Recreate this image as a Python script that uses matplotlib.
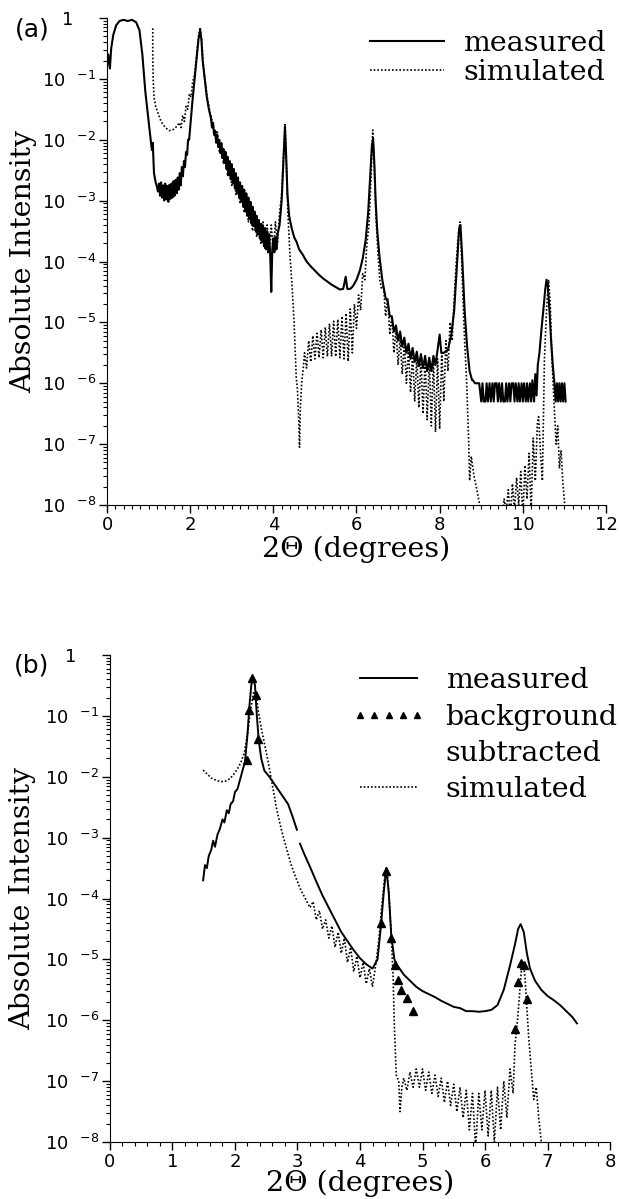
import numpy as np
import matplotlib.pyplot as plt
from matplotlib.lines import Line2D
from matplotlib.ticker import MultipleLocator, LogLocator, NullFormatter, FuncFormatter, FixedLocator

plt.rcParams['font.family'] = 'DejaVu Sans'
plt.rcParams['mathtext.default'] = 'regular'

# Werte als log10(Intensität).
# ---- (a) gemessen ----
meas_a_x = [0.00, 0.03, 0.07, 0.10, 0.15, 0.22, 0.30, 0.40, 0.50, 0.60,
            0.70, 0.78, 0.85, 0.92, 1.00, 1.05, 1.08, 1.10, 1.13, 1.17,
            1.200, 1.225, 1.250, 1.275, 1.300, 1.325, 1.350, 1.375, 1.400, 1.425,
            1.450, 1.475, 1.500, 1.525, 1.550, 1.575, 1.600, 1.625, 1.650, 1.675,
            1.700, 1.725, 1.750, 1.775, 1.800, 1.825, 1.850, 1.875, 1.900, 1.925,
            1.950, 1.975, 2.00, 2.05, 2.10, 2.15, 2.20, 2.24, 2.27, 2.30,
            2.35, 2.40, 2.45, 2.500, 2.525, 2.550, 2.575, 2.600, 2.625, 2.650,
            2.675, 2.700, 2.725, 2.750, 2.775, 2.800, 2.825, 2.850, 2.875, 2.900,
            2.925, 2.950, 2.975, 3.000, 3.025, 3.050, 3.075, 3.100, 3.125, 3.150,
            3.175, 3.200, 3.225, 3.250, 3.275, 3.300, 3.325, 3.350, 3.375, 3.400,
            3.425, 3.450, 3.475, 3.500, 3.525, 3.550, 3.575, 3.600, 3.625, 3.650,
            3.675, 3.700, 3.725, 3.750, 3.775, 3.800, 3.825, 3.850, 3.875, 3.900,
            3.925, 3.950, 3.975, 4.000, 4.025, 4.050, 4.075, 4.100, 4.150, 4.200,
            4.24, 4.28, 4.31, 4.34, 4.38, 4.44, 4.50, 4.56, 4.62, 4.70,
            4.80, 4.90, 5.00, 5.10, 5.20, 5.30, 5.40, 5.50, 5.60, 5.68,
            5.74, 5.78, 5.85, 5.92, 6.00, 6.08, 6.15, 6.22, 6.28, 6.33,
            6.37, 6.40, 6.43, 6.46, 6.50, 6.55, 6.62, 6.70, 6.75, 6.80,
            6.85, 6.90, 6.95, 7.00, 7.05, 7.10, 7.15, 7.20, 7.25, 7.30,
            7.35, 7.40, 7.45, 7.50, 7.55, 7.60, 7.65, 7.70, 7.75, 7.80,
            7.85, 7.90, 7.95, 8.00, 8.04, 8.10, 8.20, 8.28, 8.35, 8.42,
            8.47, 8.50, 8.54, 8.60, 8.66, 8.72, 8.78, 8.80, 8.85, 8.90,
            8.95, 9.00, 9.03, 9.06, 9.10, 9.13, 9.16, 9.20, 9.23, 9.27,
            9.30, 9.33, 9.37, 9.40, 9.43, 9.47, 9.50, 9.53, 9.57, 9.60,
            9.63, 9.67, 9.70, 9.73, 9.77, 9.80, 9.83, 9.87, 9.90, 9.93,
            9.97, 10.00, 10.03, 10.07, 10.10, 10.13, 10.17, 10.20, 10.23, 10.27,
            10.30, 10.33, 10.36, 10.40, 10.45, 10.50, 10.54, 10.57, 10.60, 10.64,
            10.68, 10.72, 10.76, 10.79, 10.82, 10.85, 10.88, 10.91, 10.94, 10.97,
            11.00, 11.03]
meas_a_log = [-0.80, -0.60, -0.83, -0.50, -0.28, -0.12, -0.05, -0.03, -0.05, -0.03,
              -0.07, -0.20, -0.60, -1.20, -1.70, -2.00, -2.17, -2.05, -2.55, -2.70,
              -2.77, -2.85, -2.72, -2.92, -2.70, -2.95, -2.75, -3.00, -2.72, -2.98,
              -2.76, -3.02, -2.74, -2.97, -2.72, -2.95, -2.68, -2.92, -2.66, -2.88,
              -2.62, -2.82, -2.55, -2.75, -2.45, -2.60, -2.35, -2.45, -2.20, -2.25,
              -2.00, -2.00, -1.80, -1.40, -1.05, -0.70, -0.35, -0.20, -0.35, -0.70,
              -1.00, -1.30, -1.50, -1.65, -1.80, -1.72, -1.92, -1.85, -2.05, -1.92,
              -2.12, -2.00, -2.22, -2.06, -2.30, -2.15, -2.38, -2.20, -2.48, -2.28,
              -2.58, -2.35, -2.65, -2.40, -2.72, -2.48, -2.80, -2.55, -2.88, -2.62,
              -2.95, -2.70, -3.02, -2.76, -3.10, -2.82, -3.18, -2.88, -3.25, -2.95,
              -3.30, -3.02, -3.38, -3.10, -3.42, -3.18, -3.50, -3.25, -3.55, -3.32,
              -3.62, -3.38, -3.68, -3.42, -3.75, -3.45, -3.80, -3.50, -3.85, -3.55,
              -3.90, -4.50, -3.80, -3.62, -3.85, -3.60, -3.80, -3.55, -3.40, -3.00,
              -2.40, -1.78, -2.30, -2.90, -3.25, -3.45, -3.60, -3.68, -3.80, -3.88,
              -4.00, -4.08, -4.15, -4.22, -4.28, -4.33, -4.38, -4.42, -4.46, -4.45,
              -4.25, -4.45, -4.45, -4.40, -4.30, -4.15, -3.95, -3.65, -3.20, -2.60,
              -2.10, -1.98, -2.40, -3.00, -3.50, -3.90, -4.30, -4.60, -4.65, -4.90,
              -4.90, -5.15, -5.05, -5.30, -5.15, -5.40, -5.25, -5.50, -5.35, -5.60,
              -5.42, -5.65, -5.48, -5.72, -5.52, -5.75, -5.55, -5.80, -5.58, -5.80,
              -5.55, -5.70, -5.45, -5.20, -5.50, -5.50, -5.45, -5.20, -4.80, -4.00,
              -3.45, -3.40, -3.90, -4.80, -5.40, -5.80, -5.95, -5.95, -6.00, -6.00,
              -6.00, -6.30, -6.00, -6.30, -6.30, -6.00, -6.30, -6.00, -6.30, -6.00,
              -6.30, -6.00, -6.00, -6.30, -6.00, -6.30, -6.00, -6.30, -6.30, -6.00,
              -6.30, -6.00, -6.30, -6.00, -6.00, -6.30, -6.00, -6.30, -6.00, -6.30,
              -6.00, -6.30, -6.00, -6.30, -6.00, -6.30, -6.00, -6.30, -5.95, -6.30,
              -5.85, -6.20, -5.70, -5.50, -5.10, -4.75, -4.45, -4.30, -4.40, -4.80,
              -5.30, -5.70, -6.00, -6.30, -6.00, -6.30, -6.00, -6.30, -6.00, -6.30,
              -6.00, -6.30]

# ---- (a) simuliert ----
sim_a_x = [1.10, 1.10, 1.11, 1.13, 1.17, 1.22, 1.30, 1.40, 1.50, 1.60, 1.68, 1.74, 1.78, 1.82,
           1.86, 1.90, 1.94, 1.98, 2.02, 2.06, 2.10, 2.15, 2.20, 2.24, 2.28, 2.32, 2.37, 2.42,
           2.48, 2.55, 2.60, 2.65, 2.70, 2.75, 2.80, 2.85, 2.90, 2.95, 3.00, 3.05, 3.10, 3.15,
           3.20, 3.25, 3.30, 3.35, 3.40, 3.45, 3.50, 3.55, 3.60, 3.65, 3.70, 3.75, 3.80, 3.85,
           3.90, 3.95, 4.00, 4.05, 4.10, 4.15, 4.20, 4.24, 4.28, 4.31, 4.35, 4.40, 4.45, 4.50,
           4.55, 4.58, 4.61, 4.63, 4.65, 4.68, 4.72, 4.75, 4.80, 4.85, 4.90, 4.95, 5.00, 5.05,
           5.10, 5.15, 5.20, 5.25, 5.30, 5.35, 5.40, 5.45, 5.50, 5.55, 5.60, 5.65, 5.70, 5.75,
           5.80, 5.85, 5.90, 5.95, 6.00, 6.05, 6.10, 6.15, 6.20, 6.25, 6.30, 6.35, 6.39, 6.43,
           6.47, 6.52, 6.56, 6.60, 6.65, 6.70, 6.75, 6.80, 6.85, 6.90, 6.95, 7.00, 7.05, 7.10,
           7.15, 7.20, 7.25, 7.30, 7.35, 7.40, 7.45, 7.50, 7.55, 7.60, 7.65, 7.70, 7.75, 7.80,
           7.85, 7.90, 7.95, 8.00, 8.05, 8.10, 8.15, 8.20, 8.25, 8.30, 8.35, 8.40, 8.45, 8.49,
           8.52, 8.56, 8.60, 8.65, 8.70, 8.72, 8.76, 8.82, 8.88, 8.95, 9.00, 9.40,
           9.50, 9.55, 9.60, 9.65, 9.70, 9.75, 9.80, 9.85, 9.90, 9.95, 10.00, 10.05, 10.10,
           10.15, 10.20, 10.25, 10.30, 10.35, 10.38, 10.43, 10.47, 10.52, 10.57, 10.62, 10.66,
           10.70, 10.75, 10.80, 10.84, 10.88, 10.92, 10.96, 11.02]
sim_a_log = [-0.17, -0.60, -1.00, -1.30, -1.45, -1.55, -1.70, -1.80, -1.85, -1.83, -1.78, -1.72,
             -1.80, -1.60, -1.70, -1.45, -1.50, -1.25, -1.30, -1.05, -0.95, -0.65, -0.30, -0.15,
             -0.40, -0.80, -1.10, -1.35, -1.55, -1.75, -1.95, -1.85, -2.20, -2.05, -2.40, -2.20,
             -2.60, -2.40, -2.75, -2.55, -2.90, -2.70, -3.05, -2.85, -3.20, -3.00, -3.35, -3.10,
             -3.50, -3.20, -3.60, -3.30, -3.70, -3.35, -3.80, -3.40, -3.85, -3.40, -3.85, -3.35,
             -3.70, -3.20, -2.90, -2.30, -1.75, -2.30, -3.20, -3.90, -4.40, -5.00, -5.90, -6.10,
             -6.60, -7.05, -6.40, -6.00, -5.75, -5.50, -5.75, -5.30, -5.65, -5.22, -5.60, -5.18,
             -5.58, -5.12, -5.58, -5.08, -5.56, -5.02, -5.56, -4.98, -5.56, -4.95, -5.58, -4.90,
             -5.60, -4.85, -5.64, -4.78, -5.50, -4.70, -5.10, -4.55, -4.80, -4.20, -4.30, -3.70,
             -3.40, -2.60, -1.84, -2.50, -3.30, -3.90, -4.30, -4.45, -4.40, -4.90, -4.60, -5.20,
             -4.90, -5.50, -5.10, -5.70, -5.25, -5.85, -5.35, -6.00, -5.45, -6.15, -5.50, -6.30,
             -5.55, -6.40, -5.60, -6.50, -5.60, -6.60, -5.60, -6.70, -5.60, -6.80, -5.60, -6.75,
             -5.50, -6.30, -5.30, -5.80, -5.00, -5.30, -4.60, -4.00, -3.55, -3.35, -3.80, -4.60,
             -5.30, -6.00, -7.00, -7.60, -7.20, -7.50, -7.70, -7.95, -8.20, np.nan,
             -8.20, -7.90, -8.10, -7.75, -8.20, -7.65, -8.10, -7.55, -8.00, -7.45, -8.20, -7.35,
             -7.90, -7.15, -8.10, -6.90, -7.60, -6.65, -6.55, -7.20, -7.60, -5.60, -4.80, -4.30,
             -4.70, -5.60, -6.30, -7.00, -6.70, -7.40, -7.10, -7.60, -8.10]

# ---- (b) gemessen ----
meas_b_x = [1.49, 1.52, 1.55, 1.58, 1.62, 1.65, 1.68, 1.72, 1.76, 1.80, 1.83, 1.87, 1.90, 1.93,
            1.97, 2.00, 2.04, 2.08, 2.12, 2.16, 2.20, 2.23, 2.26, 2.29, 2.32, 2.35, 2.38, 2.42,
            2.47, 2.55, 2.65, 2.75, 2.85, 2.92, 2.99, 3.01, 3.04, 3.10, 3.20, 3.30, 3.40, 3.50,
            3.60, 3.70, 3.80, 3.90, 4.00, 4.10, 4.20, 4.28, 4.33, 4.38, 4.42, 4.46, 4.50, 4.55,
            4.60, 4.70, 4.80, 4.90, 5.00, 5.10, 5.20, 5.30, 5.40, 5.50, 5.60, 5.70, 5.80, 5.90,
            6.00, 6.10, 6.20, 6.30, 6.40, 6.48, 6.53, 6.57, 6.62, 6.67, 6.72, 6.80, 6.90, 7.00,
            7.10, 7.20, 7.30, 7.40, 7.47]
meas_b_log = [-3.70, -3.45, -3.50, -3.30, -3.20, -3.05, -3.15, -2.95, -2.85, -2.70, -2.75, -2.55,
              -2.60, -2.45, -2.40, -2.25, -2.20, -2.05, -1.90, -1.75, -1.30, -0.85, -0.50, -0.36,
              -0.50, -1.00, -1.40, -1.70, -1.90, -2.00, -2.15, -2.30, -2.45, -2.65, -2.87, np.nan,
              -3.10, -3.25, -3.48, -3.72, -3.95, -4.15, -4.35, -4.55, -4.70, -4.85, -4.98, -5.08,
              -5.15, -5.00, -4.50, -3.90, -3.50, -3.90, -4.60, -5.00, -5.10, -5.25, -5.35, -5.45,
              -5.52, -5.57, -5.62, -5.68, -5.73, -5.78, -5.80, -5.85, -5.85, -5.86, -5.85, -5.83,
              -5.75, -5.50, -5.10, -4.75, -4.50, -4.42, -4.55, -4.90, -5.15, -5.35, -5.50, -5.60,
              -5.67, -5.75, -5.85, -5.95, -6.05]

# ---- (b) untergrundkorrigiert ----
bgs_b_x = [2.19, 2.22, 2.28, 2.33, 2.37, 4.34, 4.42, 4.50, 4.56, 4.60, 4.65, 4.75, 4.85,
           6.48, 6.52, 6.57, 6.63, 6.67]
bgs_b_log = [-1.72, -0.90, -0.38, -0.65, -1.38, -4.40, -3.55, -4.65, -5.09, -5.34, -5.50, -5.63,
             -5.84, -6.14, -5.37, -5.06, -5.09, -5.65]

# ---- (b) simuliert ----
sim_b_x = [1.49, 1.55, 1.62, 1.70, 1.78, 1.85, 1.92, 1.98, 2.04, 2.10, 2.15, 2.20, 2.25, 2.30,
           2.34, 2.37, 2.42, 2.47, 2.53, 2.60, 2.67, 2.75, 2.83, 2.90, 2.97, 3.05, 3.15, 3.20,
           3.25, 3.30, 3.35, 3.40, 3.45, 3.50, 3.55, 3.60, 3.65, 3.70, 3.75, 3.80, 3.85, 3.90,
           3.95, 4.00, 4.05, 4.10, 4.15, 4.20, 4.25, 4.30, 4.35, 4.40, 4.43, 4.46, 4.50, 4.53,
           4.55, 4.58, 4.62, 4.64, 4.67, 4.70, 4.75, 4.80, 4.85, 4.90, 4.95, 5.00, 5.05, 5.10,
           5.15, 5.20, 5.25, 5.30, 5.35, 5.40, 5.45, 5.50, 5.55, 5.60, 5.65, 5.70, 5.75, 5.80,
           5.85, 5.90, 5.95, 6.00, 6.05, 6.10, 6.15, 6.20, 6.25, 6.30, 6.35, 6.40, 6.45, 6.48,
           6.52, 6.55, 6.58, 6.61, 6.64, 6.67, 6.70, 6.74, 6.78, 6.82, 6.86, 6.90, 6.93]
sim_b_log = [-1.89, -1.95, -2.02, -2.06, -2.08, -2.07, -2.03, -1.96, -1.87, -1.75, -1.60, -1.30,
             -0.90, -0.60, -0.65, -0.90, -1.20, -1.45, -1.75, -2.15, -2.55, -2.90, -3.20, -3.45,
             -3.65, -3.85, -4.05, -4.15, -4.05, -4.35, -4.20, -4.50, -4.35, -4.65, -4.45, -4.80,
             -4.55, -4.90, -4.65, -5.05, -4.80, -5.20, -4.95, -5.30, -5.05, -5.40, -5.15, -5.45,
             -5.10, -4.70, -4.10, -3.60, -3.50, -3.90, -4.60, -5.30, -6.10, -6.90, -7.00, -7.50,
             -7.10, -6.95, -7.15, -6.85, -7.10, -6.80, -7.10, -6.80, -7.15, -6.85, -7.20, -6.90,
             -7.25, -6.95, -7.35, -7.00, -7.40, -7.05, -7.50, -7.10, -7.60, -7.15, -7.80, -7.20,
             -8.10, -7.20, -7.80, -7.15, -7.90, -7.15, -8.00, -7.10, -7.80, -7.00, -7.60, -6.80,
             -7.20, -6.40, -6.00, -5.60, -5.20, -5.05, -5.30, -5.80, -6.30, -6.80, -7.30, -7.10,
             -7.60, -8.00, -8.30]

# Beschriftungen
panel_tags = ['(a)', '(b)']
legend_a = ['measured', 'simulated']
legend_b = ['measured', 'background', 'subtracted', 'simulated']
x_label = '2\u0398 (degrees)'
y_label = 'Absolute Intensity'
y_decades = [1e-8, 1e-7, 1e-6, 1e-5, 1e-4, 1e-3, 1e-2, 1e-1, 1.0]
label_font = 'DejaVu Serif'
label_size = 20.5


def lin(vals):
    return np.power(10.0, np.array(vals, dtype=float))


# Formatiert die Dekaden der y-Achse im Stil "10 ^-k".
def decade_label(v, pos):
    e = int(round(np.log10(v)))
    if e == 0:
        return '1    '
    return '10  $^{%d}$' % e


def style_axes(ax, xmax, xmajor, ylab_x, xlab_y):
    ax.set_yscale('log')
    ax.set_xlim(0, xmax)
    ax.set_ylim(1e-8, 1)
    ax.spines['top'].set_visible(False)
    ax.spines['right'].set_visible(False)
    ax.xaxis.set_major_locator(MultipleLocator(xmajor))
    ax.xaxis.set_minor_locator(MultipleLocator(0.2))
    ax.yaxis.set_major_locator(FixedLocator(y_decades))
    ax.yaxis.set_minor_locator(LogLocator(base=10, subs=np.arange(2, 10), numticks=20))
    ax.yaxis.set_major_formatter(FuncFormatter(decade_label))
    ax.yaxis.set_minor_formatter(NullFormatter())
    ax.tick_params(which='major', direction='out', length=6, width=1.0, labelsize=13, pad=2)
    ax.tick_params(which='minor', direction='out', length=3, width=0.8)
    ax.set_xlabel(x_label, family=label_font, fontsize=label_size, va='center')
    ax.xaxis.set_label_coords(0.5, xlab_y)
    ax.set_ylabel(y_label, family=label_font, fontsize=label_size, va='center')
    ax.yaxis.set_label_coords(ylab_x, 0.5)


fig = plt.figure(figsize=(6.2, 11.99), dpi=100)
ax_a = fig.add_axes([0.1726, 0.5788, 0.8048, 0.4062])
ax_b = fig.add_axes([0.1774, 0.0475, 0.8065, 0.4062])

dots = (0, (1.0, 1.2))

# Teil (a)
ax_a.plot(meas_a_x, lin(meas_a_log), color='k', lw=1.5, label=legend_a[0])
ax_a.plot(sim_a_x, lin(sim_a_log), color='k', lw=1.2, ls=dots, label=legend_a[1])
style_axes(ax_a, 12, 2, -0.168, -0.09)
ax_a.legend(loc='upper right', bbox_to_anchor=(1.0, 0.975), frameon=False,
            prop={'family': label_font, 'size': label_size}, handlelength=2.6,
            handletextpad=0.7, labelspacing=0.07, borderpad=0, borderaxespad=0)

# Teil (b)
ax_b.plot(meas_b_x, lin(meas_b_log), color='k', lw=1.4)
ax_b.plot(sim_b_x, lin(sim_b_log), color='k', lw=1.2, ls=dots)
ax_b.plot(bgs_b_x, lin(bgs_b_log), ls='none', marker='^', color='k', ms=6)
style_axes(ax_b, 8, 1, -0.174, -0.084)
handles_b = [Line2D([], [], color='k', lw=1.4),
             Line2D([], [], ls='none', marker='^', color='k', ms=4.5),
             Line2D([], [], ls='none'),
             Line2D([], [], color='k', lw=1.2, ls=dots)]
ax_b.legend(handles_b, legend_b,
            loc='upper right', bbox_to_anchor=(1.015, 0.975), frameon=False,
            prop={'family': label_font, 'size': label_size}, handlelength=2.6, numpoints=5,
            handletextpad=0.7, labelspacing=0.33, borderpad=0, borderaxespad=0)

fig.text(32 / 620, 1 - 30 / 1199, panel_tags[0], fontsize=18, ha='center', va='center')
fig.text(32 / 620, 1 - 666 / 1199, panel_tags[1], fontsize=18, ha='center', va='center')

fig.savefig('out.png', dpi=100)
